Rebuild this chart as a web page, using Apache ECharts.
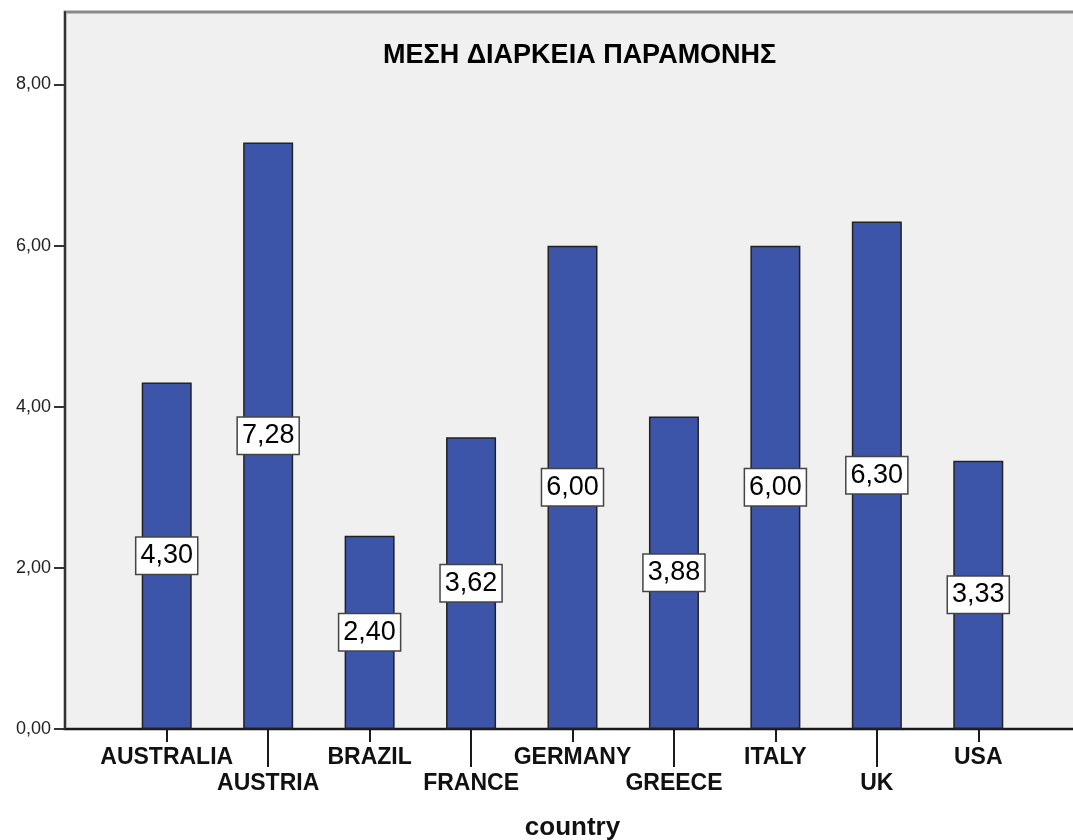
<!DOCTYPE html>
<html>
<head>
<meta charset="utf-8">
<script src="https://cdn.jsdelivr.net/npm/echarts@6/dist/echarts.min.js"></script>
<style>
    html, body { margin: 0; padding: 0; background: #ffffff; }
    #chart { width: 1073px; height: 840px; }
</style>
</head>
<body>
<div id="chart"></div>
<script>
// categories and mean stay (days)
const countries = ['AUSTRALIA', 'AUSTRIA', 'BRAZIL', 'FRANCE', 'GERMANY', 'GREECE', 'ITALY', 'UK', 'USA'];
const meanStay = [4.30, 7.28, 2.40, 3.62, 6.00, 3.88, 6.00, 6.30, 3.33];
const yTicks = [0, 2, 4, 6, 8];

const FONT = "'Liberation Sans', Arial, sans-serif";
const fmt = v => Number(v).toFixed(2).replace('.', ',');

let mychart = echarts.init(document.getElementById('chart'), null, { renderer: 'canvas' });

let option = {
    backgroundColor: '#ffffff',
    animation: false,
    title: {
        text: 'ΜΕΣΗ ΔΙΑΡΚΕΙΑ ΠΑΡΑΜΟΝΗΣ',
        left: 378,
        top: 37,
        textStyle: { fontFamily: FONT, fontWeight: 'bold', fontSize: 27, color: '#000' }
    },
    grid: [
        // frame / background
        { left: 65, top: 12, right: -30, bottom: 111, outerBoundsMode: 'none', show: true, backgroundColor: '#f0f0f0', borderColor: '#8a8a8a', borderWidth: 3 },
        // bars
        { left: 116, top: 12, right: 44, bottom: 111, outerBoundsMode: 'none' }
    ],
    xAxis: [
        {
            gridIndex: 0, type: 'value', min: 0, max: 1,
            axisLine: { show: true, lineStyle: { color: '#1a1a1a', width: 2 } },
            axisTick: { show: false }, axisLabel: { show: false }, splitLine: { show: false }
        },
        {
            gridIndex: 1, type: 'category', data: countries, position: 'bottom',
            axisLine: { show: false },
            axisTick: { show: true, alignWithLabel: true, length: 13, interval: (i) => i % 2 === 0, lineStyle: { color: '#1a1a1a', width: 2 } },
            axisLabel: { interval: (i) => i % 2 === 0, margin: 17, fontFamily: FONT, fontWeight: 'bold', fontSize: 23, color: '#111' },
            name: 'country', nameLocation: 'middle', nameGap: 86,
            nameTextStyle: { fontFamily: FONT, fontWeight: 'bold', fontSize: 26, color: '#111' }
        },
        {
            gridIndex: 1, type: 'category', data: countries, position: 'bottom',
            axisLine: { show: false },
            axisTick: { show: true, alignWithLabel: true, length: 38, interval: (i) => i % 2 === 1, lineStyle: { color: '#1a1a1a', width: 2 } },
            axisLabel: { interval: (i) => i % 2 === 1, margin: 43, fontFamily: FONT, fontWeight: 'bold', fontSize: 23, color: '#111' }
        }
    ],
    yAxis: [
        {
            gridIndex: 0, type: 'value', min: 0, max: 8.9, interval: 2,
            axisLine: { show: true, lineStyle: { color: '#333', width: 2 } },
            axisTick: { show: true, length: 11, customValues: yTicks, lineStyle: { color: '#333', width: 2 } },
            axisLabel: { customValues: yTicks, formatter: fmt, margin: 14, fontFamily: FONT, fontSize: 18, color: '#222' },
            splitLine: { show: false }
        },
        {
            gridIndex: 1, type: 'value', min: 0, max: 8.9, show: false, splitLine: { show: false }
        }
    ],
    series: [
        {
            type: 'bar',
            xAxisIndex: 1,
            yAxisIndex: 1,
            data: meanStay,
            barWidth: 50,
            itemStyle: { color: '#3d55a8', borderColor: '#222', borderWidth: 1.5 },
            label: {
                show: true,
                position: 'inside',
                formatter: (p) => fmt(p.value),
                fontFamily: FONT,
                fontSize: 27,
                color: '#000',
                backgroundColor: '#ffffff',
                borderColor: '#444',
                borderWidth: 1.5,
                padding: [6, 4, 3, 4]
            }
        }
    ]
};

mychart.setOption(option);
</script>
</body>
</html>
